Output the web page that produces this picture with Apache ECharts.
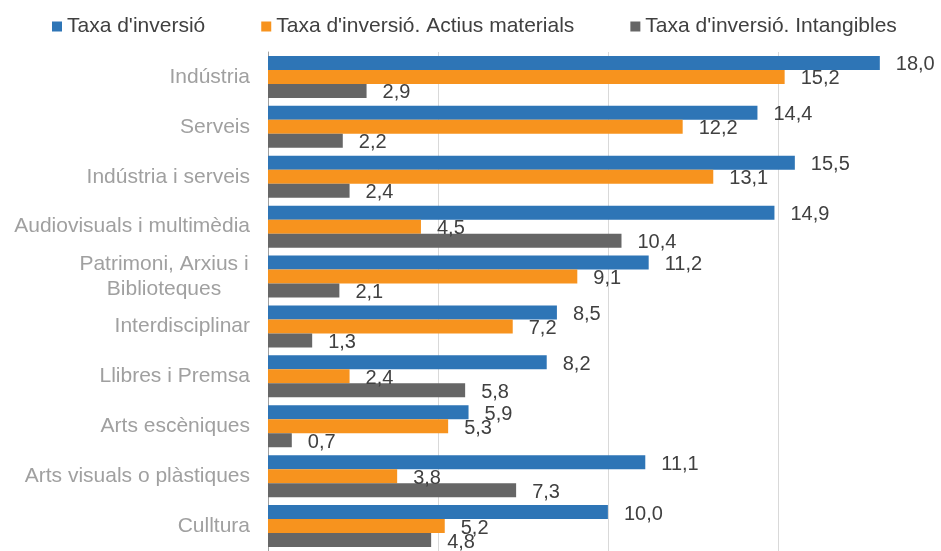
<!DOCTYPE html>
<html>
<head>
<meta charset="utf-8">
<script src="https://cdn.jsdelivr.net/npm/echarts@6/dist/echarts.min.js"></script>
<style>
html,body{margin:0;padding:0;background:#fff;}
#chart{width:941px;height:551px;}
</style>
</head>
<body>
<div id="chart"></div>
<script>
var categories = ['Indústria', 'Serveis', 'Indústria i serveis', 'Audiovisuals i multimèdia', 'Patrimoni, Arxius i\nBiblioteques', 'Interdisciplinar', 'Llibres i Premsa', 'Arts escèniques', 'Arts visuals o plàstiques', 'Culltura'];
var seriesNames = ["Taxa d'inversió", "Taxa d'inversió. Actius materials", "Taxa d'inversió. Intangibles"];
var taxaInversio = [18.0, 14.4, 15.5, 14.9, 11.2, 8.5, 8.2, 5.9, 11.1, 10.0];
var actiusMaterials = [15.2, 12.2, 13.1, 4.5, 9.1, 7.2, 2.4, 5.3, 3.8, 5.2];
var intangibles = [2.9, 2.2, 2.4, 10.4, 2.1, 1.3, 5.8, 0.7, 7.3, 4.8];
var colors = ['#2E75B6', '#F7931E', '#666666'];

var FONT = "'Liberation Sans', Arial, sans-serif";
var chart = echarts.init(document.getElementById('chart'));

function mkSeries(name, data, color) {
  return {
    name: name,
    type: 'bar',
    data: data,
    barWidth: 14,
    barGap: '0%',
    itemStyle: { color: color },
    label: {
      show: true,
      position: 'right',
      distance: 16,
      offset: [0, 2],
      color: '#404040',
      fontSize: 20,
      fontFamily: FONT,
      formatter: function (p) { return p.value.toFixed(1).replace('.', ','); }
    },
    emphasis: { disabled: true },
    animation: false
  };
}

chart.setOption({
  animation: false,
  color: colors,
  textStyle: { fontFamily: FONT },
  legend: {
    left: 52,
    top: 16,
    padding: 0,
    icon: 'rect',
    itemWidth: 10,
    itemHeight: 10,
    itemGap: 56,
    textStyle: { color: '#404040', fontSize: 21, fontFamily: FONT },
    data: seriesNames
  },
  grid: { left: 268, top: 52, right: 0, height: 500, containLabel: false },
  xAxis: {
    type: 'value',
    min: 0,
    max: 19.8,
    interval: 5,
    axisLine: { show: false },
    axisTick: { show: false },
    axisLabel: { show: false },
    splitLine: { show: true, lineStyle: { color: '#D9D9D9', width: 1 } }
  },
  yAxis: {
    type: 'category',
    inverse: true,
    data: categories,
    axisLine: { show: true, lineStyle: { color: '#A0A0A0', width: 1 } },
    axisTick: { show: false },
    axisLabel: {
      margin: 18,
      color: '#A0A0A0',
      fontSize: 21,
      fontFamily: FONT,
      lineHeight: 25,
      formatter: function (v) {
        if (v.indexOf('\n') >= 0) {
          return v.split('\n').map(function (s) { return '{c|' + s + '}'; }).join('\n');
        }
        return v;
      },
      rich: {
        c: { width: 172, align: 'center', color: '#A0A0A0', fontSize: 21, fontFamily: FONT, lineHeight: 25 }
      }
    }
  },
  series: [
    mkSeries(seriesNames[0], taxaInversio, colors[0]),
    mkSeries(seriesNames[1], actiusMaterials, colors[1]),
    mkSeries(seriesNames[2], intangibles, colors[2])
  ]
});
</script>
</body>
</html>
